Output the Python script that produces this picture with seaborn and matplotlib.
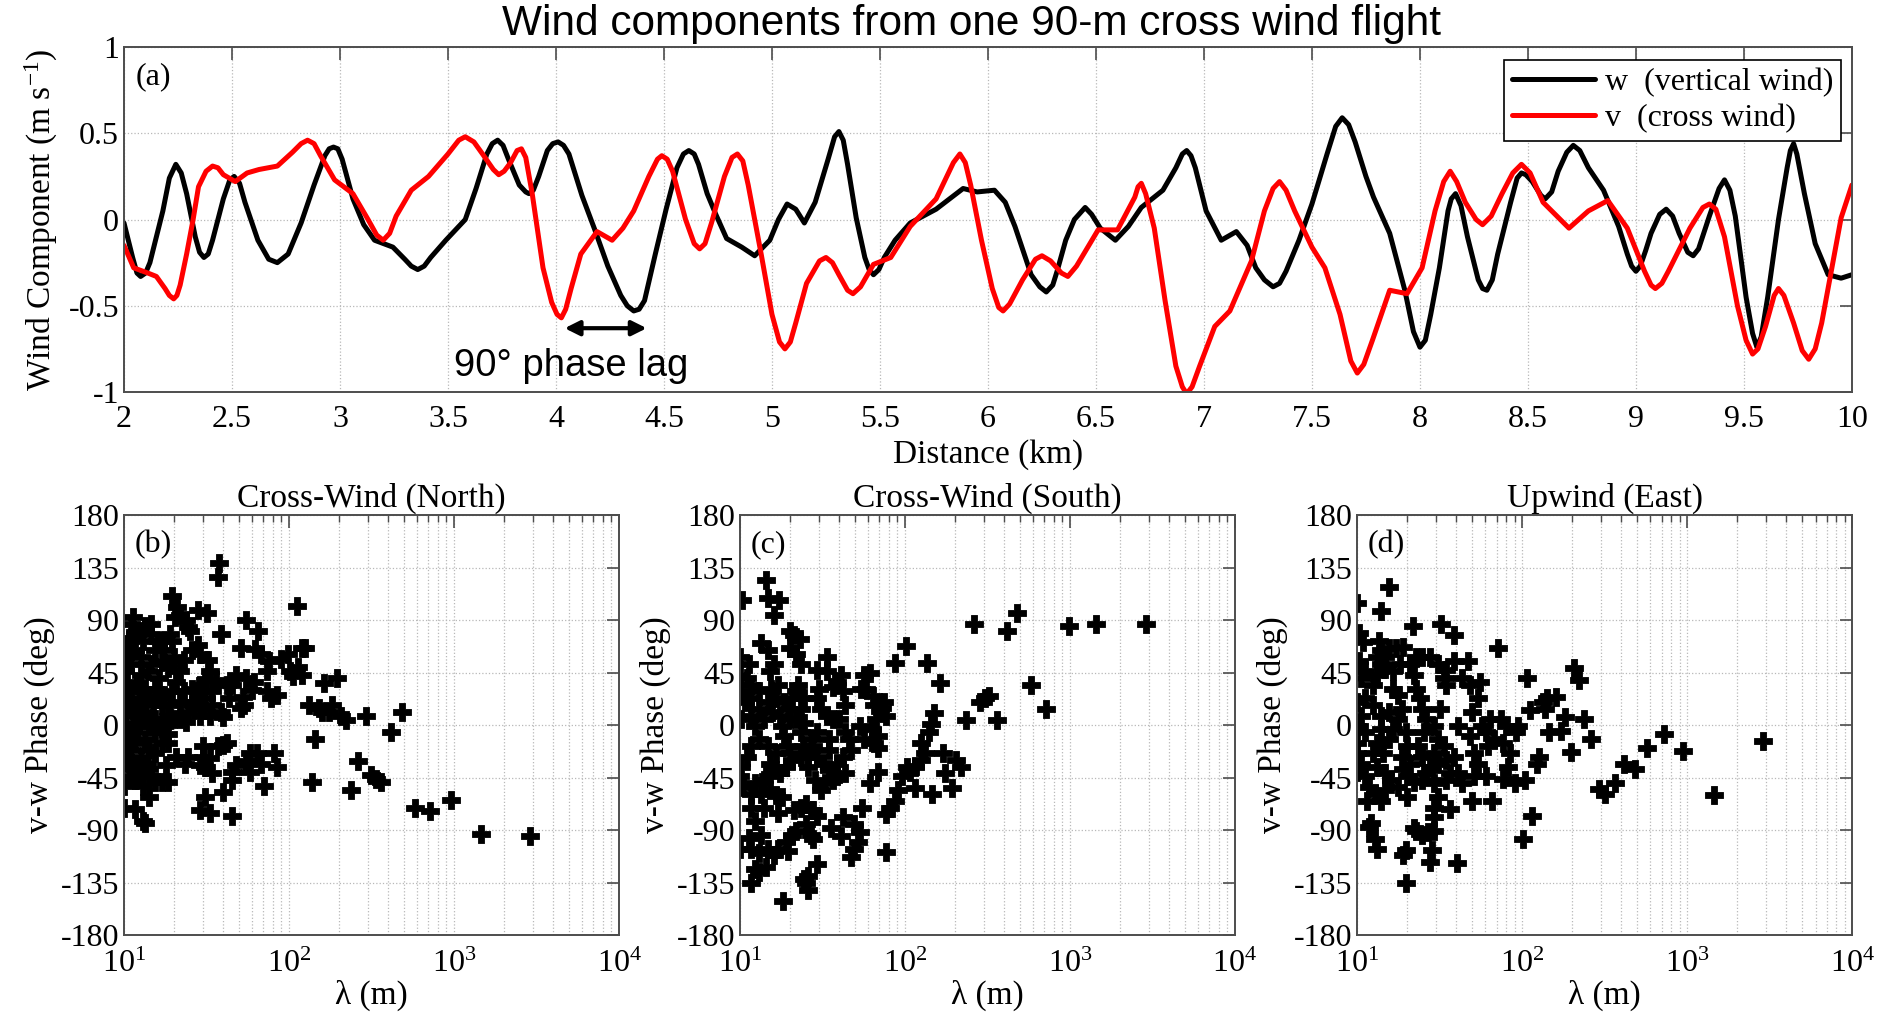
import numpy as np
import pandas as pd
import matplotlib
matplotlib.use("Agg")
import matplotlib.pyplot as plt
import seaborn as sns
from matplotlib.ticker import FixedLocator, FixedFormatter, LogLocator, NullFormatter

# ---------------- data: panel (a) ----------------
w_km = [2.00, 2.04, 2.06, 2.077, 2.10, 2.12, 2.18, 2.21, 2.24, 2.265, 2.29, 2.33, 2.35, 2.37, 2.39, 2.41,
        2.46, 2.49, 2.51, 2.535, 2.56, 2.62, 2.67, 2.71, 2.76, 2.82, 2.88, 2.93, 2.95, 2.97, 2.99, 3.01,
        3.06, 3.11, 3.16, 3.245, 3.30, 3.33, 3.36, 3.39, 3.42, 3.49, 3.58, 3.63, 3.68, 3.705, 3.73, 3.755,
        3.78, 3.83, 3.86, 3.875, 3.895, 3.92, 3.96, 3.985, 4.01, 4.035, 4.06, 4.12, 4.18, 4.24, 4.30, 4.33,
        4.36, 4.385, 4.41, 4.46, 4.51, 4.56, 4.59, 4.615, 4.64, 4.66, 4.70, 4.74, 4.79, 4.86, 4.92, 4.99,
        5.03, 5.07, 5.11, 5.15, 5.20, 5.26, 5.29, 5.31, 5.33, 5.35, 5.39, 5.43, 5.45, 5.47, 5.495, 5.52,
        5.57, 5.64, 5.76, 5.885, 5.95, 6.03, 6.08, 6.125, 6.20, 6.24, 6.27, 6.30, 6.32, 6.36, 6.40, 6.45,
        6.48, 6.52, 6.59, 6.65, 6.71, 6.81, 6.87, 6.90, 6.92, 6.94, 6.96, 7.01, 7.08, 7.15, 7.20, 7.24,
        7.28, 7.32, 7.35, 7.38, 7.44, 7.50, 7.57, 7.61, 7.64, 7.67, 7.70, 7.75, 7.785, 7.86, 7.93, 7.97,
        8.00, 8.025, 8.05, 8.09, 8.13, 8.145, 8.165, 8.19, 8.22, 8.27, 8.29, 8.31, 8.335, 8.36, 8.42, 8.45,
        8.47, 8.49, 8.52, 8.56, 8.58, 8.61, 8.64, 8.68, 8.71, 8.74, 8.78, 8.85, 8.92, 8.96, 8.98, 9.00,
        9.02, 9.045, 9.07, 9.11, 9.14, 9.17, 9.20, 9.24, 9.265, 9.29, 9.34, 9.385, 9.41, 9.435, 9.46, 9.51,
        9.54, 9.56, 9.58, 9.61, 9.66, 9.70, 9.715, 9.73, 9.745, 9.76, 9.78, 9.83, 9.89, 9.95, 10.0]
w_val = [-0.02, -0.22, -0.31, -0.33, -0.31, -0.25, 0.05, 0.24, 0.32, 0.27, 0.15, -0.10, -0.19, -0.22, -0.20, -0.12,
         0.12, 0.23, 0.25, 0.21, 0.10, -0.12, -0.23, -0.25, -0.20, -0.02, 0.20, 0.37, 0.41, 0.42, 0.41, 0.35,
         0.12, -0.03, -0.12, -0.16, -0.23, -0.27, -0.29, -0.27, -0.22, -0.12, 0.00, 0.18, 0.38, 0.44, 0.46, 0.43,
         0.35, 0.20, 0.16, 0.15, 0.17, 0.25, 0.40, 0.44, 0.45, 0.43, 0.38, 0.14, -0.06, -0.27, -0.44, -0.50,
         -0.53, -0.52, -0.47, -0.20, 0.06, 0.30, 0.38, 0.40, 0.38, 0.32, 0.15, 0.03, -0.11, -0.16, -0.21, -0.12,
         0.00, 0.09, 0.06, -0.02, 0.10, 0.35, 0.48, 0.51, 0.46, 0.32, 0.01, -0.22, -0.29, -0.32, -0.29, -0.22,
         -0.12, -0.02, 0.06, 0.18, 0.16, 0.17, 0.10, -0.04, -0.32, -0.39, -0.42, -0.38, -0.30, -0.12, 0.00, 0.07,
         0.03, -0.05, -0.12, -0.04, 0.07, 0.17, 0.30, 0.38, 0.40, 0.37, 0.30, 0.05, -0.12, -0.07, -0.15, -0.28,
         -0.35, -0.39, -0.37, -0.30, -0.12, 0.09, 0.38, 0.54, 0.59, 0.55, 0.45, 0.25, 0.13, -0.08, -0.41, -0.65,
         -0.74, -0.70, -0.55, -0.28, 0.05, 0.12, 0.15, 0.08, -0.10, -0.35, -0.40, -0.41, -0.35, -0.20, 0.10, 0.24,
         0.27, 0.26, 0.22, 0.14, 0.12, 0.16, 0.28, 0.39, 0.43, 0.40, 0.30, 0.17, -0.04, -0.20, -0.27, -0.30,
         -0.27, -0.18, -0.08, 0.03, 0.06, 0.02, -0.08, -0.19, -0.21, -0.17, 0.02, 0.18, 0.23, 0.17, 0.02, -0.45,
         -0.66, -0.74, -0.68, -0.45, 0.00, 0.30, 0.40, 0.44, 0.38, 0.28, 0.15, -0.14, -0.32, -0.34, -0.32]

v_km = [2.00, 2.045, 2.11, 2.15, 2.19, 2.21, 2.23, 2.245, 2.26, 2.29, 2.32, 2.345, 2.38, 2.41, 2.435, 2.46,
        2.515, 2.57, 2.625, 2.71, 2.78, 2.82, 2.85, 2.88, 2.91, 2.975, 3.06, 3.13, 3.17, 3.20, 3.23, 3.26,
        3.33, 3.41, 3.50, 3.55, 3.58, 3.62, 3.66, 3.71, 3.735, 3.76, 3.79, 3.82, 3.84, 3.86, 3.89, 3.94,
        3.98, 4.005, 4.025, 4.045, 4.07, 4.115, 4.19, 4.26, 4.31, 4.36, 4.43, 4.47, 4.49, 4.515, 4.54, 4.60,
        4.64, 4.665, 4.69, 4.72, 4.78, 4.815, 4.84, 4.865, 4.89, 4.95, 5.00, 5.035, 5.06, 5.085, 5.11, 5.16,
        5.22, 5.25, 5.28, 5.31, 5.35, 5.375, 5.41, 5.47, 5.55, 5.64, 5.76, 5.84, 5.87, 5.895, 5.92, 5.97,
        6.02, 6.05, 6.07, 6.10, 6.16, 6.22, 6.25, 6.29, 6.34, 6.37, 6.41, 6.51, 6.60, 6.68, 6.695, 6.71,
        6.73, 6.77, 6.82, 6.87, 6.90, 6.92, 6.945, 6.98, 7.05, 7.12, 7.22, 7.28, 7.32, 7.35, 7.38, 7.42,
        7.50, 7.56, 7.63, 7.68, 7.71, 7.74, 7.78, 7.86, 7.94, 8.01, 8.07, 8.11, 8.14, 8.17, 8.21, 8.26,
        8.29, 8.33, 8.38, 8.43, 8.47, 8.51, 8.57, 8.69, 8.78, 8.87, 8.96, 9.04, 9.07, 9.09, 9.12, 9.15,
        9.25, 9.31, 9.34, 9.37, 9.41, 9.47, 9.51, 9.54, 9.565, 9.60, 9.64, 9.66, 9.685, 9.73, 9.77, 9.80,
        9.83, 9.86, 9.95, 10.0]
v_val = [-0.15, -0.28, -0.31, -0.33, -0.40, -0.44, -0.46, -0.44, -0.38, -0.20, 0.00, 0.19, 0.28, 0.31, 0.30, 0.26,
         0.22, 0.27, 0.29, 0.31, 0.39, 0.44, 0.46, 0.44, 0.37, 0.23, 0.15, 0.00, -0.09, -0.12, -0.08, 0.02,
         0.17, 0.25, 0.38, 0.46, 0.48, 0.45, 0.38, 0.29, 0.26, 0.28, 0.33, 0.40, 0.41, 0.36, 0.15, -0.28,
         -0.48, -0.55, -0.57, -0.52, -0.40, -0.20, -0.07, -0.12, -0.05, 0.05, 0.25, 0.35, 0.37, 0.35, 0.28, 0.00,
         -0.14, -0.17, -0.14, -0.02, 0.25, 0.36, 0.38, 0.34, 0.20, -0.20, -0.55, -0.71, -0.75, -0.71, -0.60, -0.37,
         -0.24, -0.22, -0.25, -0.32, -0.41, -0.43, -0.39, -0.26, -0.22, -0.04, 0.12, 0.33, 0.38, 0.33, 0.20, -0.12,
         -0.40, -0.51, -0.53, -0.49, -0.35, -0.23, -0.21, -0.24, -0.31, -0.33, -0.27, -0.06, -0.06, 0.13, 0.19, 0.21,
         0.15, -0.05, -0.47, -0.85, -0.97, -1.01, -0.97, -0.85, -0.62, -0.53, -0.24, 0.05, 0.18, 0.22, 0.17, 0.05,
         -0.16, -0.28, -0.55, -0.82, -0.89, -0.84, -0.70, -0.41, -0.43, -0.28, 0.05, 0.22, 0.28, 0.22, 0.10, 0.00,
         -0.03, 0.02, 0.15, 0.27, 0.32, 0.27, 0.10, -0.05, 0.05, 0.11, -0.05, -0.30, -0.38, -0.40, -0.37, -0.30,
         -0.05, 0.07, 0.09, 0.06, -0.10, -0.50, -0.70, -0.78, -0.75, -0.62, -0.44, -0.40, -0.44, -0.60, -0.76, -0.81,
         -0.75, -0.60, 0.01, 0.20]

# ---------------- data: panels (b)-(d) ----------------
b_lam = [37.9, 37, 38.5, 19.5, 21, 20.5, 27.9, 32, 112, 55.1, 65, 51, 62, 68, 76, 90, 99, 120, 125, 114, 101, 106,
         120, 195, 163, 132, 181, 151, 159, 175, 206, 222, 291, 484, 415, 143, 263, 316, 338, 363, 138, 239, 580,
         720, 955, 1450, 2880, 71, 81, 84, 68, 64, 58, 55, 58, 48, 45, 45, 40, 45, 33, 29, 31, 34, 31, 29, 33, 30,
         40, 42, 37, 30, 23.5, 24.4, 20.6, 17.9, 18.4, 17, 15.5, 13.4, 13, 14.2, 13, 11.6, 10, 10, 10.7, 12.3, 14.2,
         12.7, 11, 10.4, 11.3, 10.1, 12, 13.4, 15.5, 15.5, 17.4, 18.4, 17, 18.6, 20, 21.8, 23.7, 24.4, 25.8, 29,
         30.6, 33.4, 34, 38.5, 39.6, 43, 42, 45, 47.6, 55, 52.6, 51, 53, 61, 60, 74, 74, 78, 85, 36, 33, 31, 34,
         31, 29, 25.8, 27.5, 29, 32.5, 29, 25.8, 28, 25, 23.7, 24.4, 21.8, 23, 21.8, 20.6, 19.5, 23, 21.8, 19,
         18.4, 17, 17.4, 15.5, 16.4, 18.4, 20, 17.4, 19.5, 19, 17.4, 16, 15.5, 17, 14.6, 14.6, 13.4, 14.6, 12.3,
         13, 11.6, 12.7, 13.9, 12.7, 12, 13.4, 14.2, 12.3, 11, 10.4, 10, 10.1, 11, 10.4, 10, 10.7, 11.3, 11, 11.6,
         10.4, 11.3, 12.3, 13.4, 15, 16.4, 11.3, 12.3, 11, 10.1, 11.6, 10, 10.4, 11.6, 11, 11.6, 12.7, 14.6, 13.7,
         15.5, 14.2, 13.4, 14.6, 16, 14.2, 13]
b_phase = [139, 127, 78, 111, 101, 93, 99, 96, 102, 90, 81, 66, 65, 61, 55, 57, 61, 66, 66, 50, 46, 42,
           43, 40, 36, 17, 17, 15, 11, 11, 8, 4, 8, 11, -6, -12, -31, -43, -46, -49, -49, -56, -71,
           -74, -64, -93, -95, -52, -24, -36, -33, -24, -24, -31, -40, -34, -40, -47, -57, -78, -75, -73, -62, -41, -36, -34, -28, -27,
           -17, -15, -18, -18, -33, -27, -27, -34, -49, -49, -49, -84, -82, -62, -52, -72, -71, -52, -44, -37, -38,
           -27, -21, -12, -4, 11, 8, 11, 5, -6, -1, -8, -15, -15, 5, 5, 3, 11, 17, 8,
           15, 8, 17, 11, 7, 23, 34, 34, 43, 40, 24, 15, 17, 37, 30, 46, 29, 23, 26, 39, 46, 39, 29,
           23, 29, 31, 20, 34, 56, 61, 64, 69, 81, 90, 84, 94, 56, 46, 37, 29, 29, 20, 17,
           8, 17, 26, 31, 40, 49, 58, 64, 72, 78, 72, 72, 64, 55, 52, 78, 85, 87, 81,
           72, 64, 58, 46, 43, 34, 31, 23, 23, 29, 37, 31, 46, 52, 61, 66, 75, 93, 87, 78,
           20, 17, 14, 20, 17, 24, 2, -1, -9, -1, -15, -24, -30, -33, -38, -47, -44, -44, -33,
           -24, -21, -12, -1, -1, 5, 5]

c_lam = [10.3, 14.3, 14.7, 17.3, 16, 20.2, 21.4, 23, 20.2, 22, 23.3, 13.5, 14.7, 16, 15.1, 17, 15.4, 13.1, 11.7, 11.1,
         10, 11.4, 10, 10, 10.8, 10.2, 11.7, 13.1, 12.4, 13.9, 15.6, 17.4, 18, 18.5, 19.6, 20.2, 20.7, 19.1, 17.4,
         15.6, 14.7, 15.1, 16.5, 14.7, 13.1, 11.7, 11.1, 10.2, 10, 10.5, 11.7, 12.4, 13.9, 13.5, 15.1, 16.5, 18, 17,
         13.9, 11.7, 12.4, 13.5, 11.4, 10, 11.7, 13.1, 14.7, 16, 17, 19.1, 20.7, 22, 19.6, 12.4, 11.7, 13.1, 14.3,
         18.3, 24.6, 25.9, 25.3, 25.9, 29.2, 27.6, 26.8, 25.3, 21.4, 23.3, 25.3, 27.6, 29.2, 35.6, 41.2, 47.4, 48.8,
         51.6, 53.2, 48.8, 42.3, 54.7, 61.3, 68.6, 77.2, 77.2, 81.5, 86.6, 91, 95.4, 108, 103, 115, 125, 132, 125,
         140, 144, 149, 162, 136, 145, 115, 192, 176, 171, 204, 220, 234, 263, 415, 478, 283, 304, 322, 360, 580,
         720, 980, 1430, 2900, 101, 86.6, 61.3, 56.4, 54, 58, 64.2, 65.3, 72.8, 75, 77.2, 66.6, 62.8, 68.6, 65.3,
         68.6, 56.4, 53.2, 43.5, 42.3, 38.8, 36.7, 40.7, 29.2, 33.7, 33.7, 30.1, 29.2, 31.1, 33.7, 36.7, 40, 43.5,
         46, 47.4, 42.3, 38.8, 43.5, 38.8, 34.8, 31.8, 29.2, 27.6, 26.8, 29.2, 34.8, 34.8, 25.9, 28.4, 32.6, 31.1,
         36.7, 24.6, 23.3, 24, 23.3, 25.9, 23.3, 24.6, 22, 22.6, 20.7, 19.6, 18.5, 20.2, 22, 16.5, 14.7, 11.7]
c_phase = [107, 124, 109, 107, 94, 81, 77, 74, 66, 61, 52, 70, 64, 52, 46, 34, 31, 29, 34, 40,
           58, 52, 43, 29, 20, 5, 8, 14, -1, 5, 11, 8, -1, -9, -18, -24, -30, -36, -41,
           -38, -44, -33, -24, -18, -12, -18, -27, -36, -44, -53, -59, -50, -47, -59, -56, -60, -62, -75,
           -71, -71, -82, -94, -97, -106, -106, -110, -106, -111, -106, -100, -94, -91, -108, -123, -135, -126, -122,
           -151, -132, -141, -135, -129, -119, -98, -94, -85, -73, -71, -68, -73, -78, -88, -95, -113, -106,
           -100, -92, -85, -79, -71, -50, -40, -109, -76, -71, -65, -56, -44, -40, -36, -36, -30, -24, -15,
           -6, 1, 10, 36, 53, -59, -54, -54, -41, -24, -30, -36, 4, 87, 81, 96, 20, 23, 25, 4, 34,
           14, 85, 87, 87, 68, 53, 45, 43, 31, 31, 25, 17, 15, 20, 8, 5, -3, -9, -15,
           -20, -12, -1, 17, 29, 37, 33, 43, 47, 58, 46, 31, 23, 14, 8, 5, 5, -6,
           -12, -21, -27, -33, -41, -44, -38, -33, -27, -18, -12, -6, -12, -21, -36, -47, -50, -56,
           -47, 2, -6, -18, -27, -27, 14, 23, 29, 34, 23, 14, 20, 5, 5, 23, 20, 23]

d_lam = [10, 14, 15.7, 21.8, 32.3, 38.6, 71, 10.3, 10.9, 10.3, 11.2, 10.6, 12.5, 13.2, 13.6, 14, 14.8, 15.7, 17.1, 19.1,
         18.1, 16.6, 14.8, 14, 13.2, 16.6, 17.6, 18.6, 17.6, 15.7, 14, 12.5, 11.2, 10, 10.6, 10, 11.2, 10, 10,
         10.6, 10, 11.2, 11.8, 11.5, 12.9, 14, 14.8, 16.1, 17.6, 14.8, 13.2, 12.5, 13.2, 14.4, 15.7, 16.6, 14,
         19.7, 20.2, 18.6, 20.8, 19.1, 20.2, 22, 20.2, 24.6, 26, 27.5, 24.6, 23.3, 25.3, 26, 24.6, 24.1, 22.6,
         22.2, 20.8, 22.6, 24.6, 27.5, 30.9, 34.5, 38.6, 33.6, 34.5, 43.3, 47, 48.3, 55.6, 54.4, 49.8, 31.8,
         29.2, 30.9, 33.6, 29.2, 30.9, 34.5, 38.6, 36.7, 34.5, 40.8, 43.3, 29.2, 30.9, 36.7, 29.2, 29.2, 29.2,
         26.8, 24.6, 22.6, 22, 12.2, 11.8, 12.9, 13.2, 19.7, 19.1, 28.4, 27.5, 40.4, 19.7, 40.8, 48.3, 51.2,
         54.4, 51.2, 49.8, 60.6, 66.1, 62.4, 60.6, 57.3, 64.3, 74, 80.3, 67.8, 76.1, 85, 76.1, 82.6, 90, 103.8,
         92.3, 95, 101, 115, 106.5, 111, 134, 141, 160, 137, 145, 172, 183, 123, 127, 197, 207, 222, 238, 263,
         291, 320, 364, 413, 482, 575, 724, 947, 1460, 2900]
d_phase = [105, 98, 118, 85, 87, 77, 66, 79, 71, 55, 46, 40, 34, 43, 72, 64, 58, 66, 66, 67,
           52, 46, 48, 52, 58, 31, 26, 14, 5, 11, 8, 17, 23, 20, 8, -1, -6, -15, -24,
           -33, -40, -44, -53, -65, -59, -65, -56, -47, -53, -41, -36, -24, -15, -24, -12, -3, -3,
           -6, -18, -27, -33, -38, -44, -49, -62, -47, -41, -36, -27, -18, -6, 5, 14, 23, 31,
           43, 52, 58, 58, 58, 52, 47, 55, 40, 34, 40, 55, 34, 37, 23, 11, 14,
           -1, -12, -18, -24, -33, -30, -27, -41, -47, -41, -50, -50, -62, -72, -71, -79, -91,
           -92, -94, -91, -88, -84, -87, -98, -106, -107, -111, -107, -117, -118, -135, -1, -9, -24,
           -33, -44, -65, -44, -65, -18, -6, -1, 5, 5, -1, -12, -15, -24, -46, -36, -50, -47,
           -6, -1, -98, -78, 40, 13, 20, 23, 24, 14, -6, -5, 7, -33, -27, -23, 49, 39, 5, -12,
           -55, -59, -50, -33, -38, -20, -8, -22, -60, -14]

panel_titles = ["Cross-Wind (North)", "Cross-Wind (South)", "Upwind (East)"]
panel_tags = ["(b)", "(c)", "(d)"]
phase_ticks = [-180, -135, -90, -45, 0, 45, 90, 135, 180]
dist_ticks = [2, 2.5, 3, 3.5, 4, 4.5, 5, 5.5, 6, 6.5, 7, 7.5, 8, 8.5, 9, 9.5, 10]
wind_ticks = [-1, -0.5, 0, 0.5, 1]

# ---------------- style ----------------
sns.set_theme(style="white")
plt.rcParams["font.family"] = ["Liberation Serif", "DejaVu Serif"]
plt.rcParams["mathtext.fontset"] = "custom"
plt.rcParams["mathtext.rm"] = "Liberation Serif"
plt.rcParams["mathtext.it"] = "Liberation Serif:italic"
plt.rcParams["axes.edgecolor"] = "#4d4d4d"
plt.rcParams["axes.linewidth"] = 1.4
plt.rcParams["text.color"] = "black"
plt.rcParams["axes.labelcolor"] = "black"
plt.rcParams["xtick.color"] = "black"
plt.rcParams["ytick.color"] = "black"

TICK_FS = 23
LAB_FS = 24
GRID_KW = dict(color="#b8b8b8", linestyle=":", linewidth=0.9)

fig = plt.figure(figsize=(18.93, 10.14), dpi=100)

def style_ticks(ax):
    ax.tick_params(axis="both", which="both", direction="in", top=True, right=True,
                   labelsize=TICK_FS, colors="#4d4d4d", labelcolor="black")
    ax.tick_params(which="major", length=9, width=1.2)
    ax.tick_params(which="minor", length=5, width=1.0)

# ---------------- panel (a) ----------------
axa = fig.add_axes([0.0655, 0.6134, 0.9128, 0.3402])
df_w = pd.DataFrame({"km": w_km, "val": w_val})
df_v = pd.DataFrame({"km": v_km, "val": v_val})
sns.lineplot(data=df_w, x="km", y="val", ax=axa, color="black", linewidth=3.6,
             estimator=None, label="w  (vertical wind)")
sns.lineplot(data=df_v, x="km", y="val", ax=axa, color="#ff0000", linewidth=3.6,
             estimator=None, label="v  (cross wind)")
for ln in axa.get_lines():
    ln.set_solid_joinstyle("round")
    ln.set_solid_capstyle("round")
axa.set_xlim(2, 10)
axa.set_ylim(-1, 1)
axa.set_xticks(dist_ticks)
axa.set_xticklabels([f"{t:g}" for t in dist_ticks])
axa.set_yticks(wind_ticks)
axa.set_yticklabels([f"{t:g}" for t in wind_ticks])
axa.grid(True, which="major", **GRID_KW)
style_ticks(axa)
axa.tick_params(axis="x", which="major", pad=9)
for s in axa.spines.values():
    s.set_visible(True)
axa.set_xlabel("Distance (km)", fontsize=LAB_FS, labelpad=4)
axa.set_ylabel(r"Wind Component (m s$^{-1}$)", fontsize=LAB_FS, labelpad=6)
axa.text(0.007, 0.913, "(a)", transform=axa.transAxes, fontsize=TICK_FS, va="center", ha="left")
leg = axa.legend(loc="upper right", bbox_to_anchor=(0.9936, 0.962), fontsize=TICK_FS,
                 frameon=True, fancybox=False, edgecolor="black", framealpha=1,
                 handlelength=2.6, handletextpad=0.3, borderpad=0.25, labelspacing=0.2,
                 borderaxespad=0)
leg.get_frame().set_linewidth(1.2)
axa.annotate("", xy=(4.04, -0.63), xytext=(4.42, -0.63),
             arrowprops=dict(arrowstyle="<|-|>", color="black", lw=3,
                             mutation_scale=22, shrinkA=0, shrinkB=0))
axa.text(4.07, -0.85, "90° phase lag", fontsize=27.5, ha="center", va="center",
         family=["Liberation Sans", "DejaVu Sans"])
fig.text(0.513, 1 - 24 / 1014, "Wind components from one 90-m cross wind flight",
         fontsize=30.5, ha="center", va="center", family=["Liberation Sans", "DejaVu Sans"])

# ---------------- panels (b)-(d) ----------------
lefts = [0.0655, 0.3909, 0.7169]
datasets = [(b_lam, b_phase), (c_lam, c_phase), (d_lam, d_phase)]
for left, (lam, ph), title, tag in zip(lefts, datasets, panel_titles, panel_tags):
    ax = fig.add_axes([left, 0.0779, 0.2615, 0.4142])
    df = pd.DataFrame({"lam": lam, "phase": ph})
    sns.scatterplot(data=df, x="lam", y="phase", ax=ax, marker="P", s=150,
                    color="black", edgecolor="black", linewidth=0.6, legend=False)
    ax.set_xscale("log")
    ax.set_xlim(10, 1e4)
    ax.set_ylim(-180, 180)
    ax.xaxis.set_major_locator(FixedLocator([10, 100, 1000, 10000]))
    ax.xaxis.set_major_formatter(FixedFormatter([r"$10^{1}$", r"$10^{2}$", r"$10^{3}$", r"$10^{4}$"]))
    ax.xaxis.set_minor_locator(LogLocator(base=10, subs=np.arange(2, 10), numticks=20))
    ax.xaxis.set_minor_formatter(NullFormatter())
    ax.set_yticks(phase_ticks)
    ax.set_yticklabels([str(t) for t in phase_ticks])
    ax.grid(True, which="major", **GRID_KW)
    ax.grid(True, which="minor", axis="x", **GRID_KW)
    style_ticks(ax)
    ax.tick_params(axis="x", which="major", pad=11)
    for s in ax.spines.values():
        s.set_visible(True)
    ax.set_xlabel("λ (m)", fontsize=LAB_FS, labelpad=0)
    ax.set_ylabel("v-w Phase (deg)", fontsize=LAB_FS, labelpad=4)
    ax.set_title(title, fontsize=LAB_FS, pad=6)
    ax.text(0.022, 0.929, tag, transform=ax.transAxes, fontsize=TICK_FS, va="center", ha="left")

fig.savefig("out.png", dpi=100)
